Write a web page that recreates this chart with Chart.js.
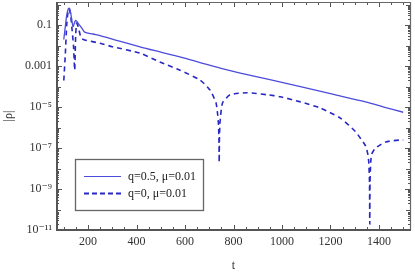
<!DOCTYPE html>
<html><head><meta charset="utf-8">
<script src="https://cdn.jsdelivr.net/npm/chart.js@4"></script>
<style>html,body{margin:0;padding:0;background:#fff;}#wrap{width:415px;height:277px;}</style>
</head><body><div id="wrap"><canvas id="c" width="415" height="277"></canvas></div>
<script>
// Series q=0.5, mu=0.01 (solid)
const tSolid = [100,106,112,118,122,127,132,138,143,149,156,165,175,186,220,250,300,414,500,579,662,745,828,950,1076,1200,1345,1420,1500];
const vSolid = [0.02,0.08,0.3,0.6,0.68,0.5,0.22,0.085,0.12,0.17,0.14,0.1,0.07,0.046,0.037,0.031,0.021,0.0087,0.0048,0.0028,0.0015,8e-4,4.6e-4,2.2e-4,1e-4,4.5e-5,1.8e-5,1e-5,5.6e-6];
// Series q=0, mu=0.01 (dashed)
const tDash = [100,106,112,118,122,128,134,140,145,149,153,160,168,175,186,250,300,414,496,579,662,703,728,735,738,740,741,742,744,747,752,757,786,857,939,993,1076,1159,1241,1303,1345,1354,1358,1361,1362,1363,1366,1370,1386,1428,1490,1500];
const vDash = [2e-4,3.2e-3,0.1,0.5,0.63,0.32,0.063,0.01,6.3e-4,0.032,0.126,0.08,0.032,0.022,0.019,0.013,0.0089,0.0043,0.0016,6.3e-4,2.1e-4,6.8e-5,1.6e-5,4e-6,1.5e-6,3e-7,2e-8,3e-7,1.5e-6,4e-6,1.2e-5,1.8e-5,4e-5,5e-5,4e-5,3.2e-5,1.8e-5,8.9e-6,2.9e-6,6.3e-7,1.26e-7,5e-8,2e-8,2e-9,2e-11,2e-9,2e-8,5e-8,1e-7,2e-7,2.5e-7,2.5e-7];
const xTicks = [200,400,600,800,1000,1200,1400];
const yTicks = [0.1,1e-3,1e-5,1e-7,1e-9,1e-11];
const yTickLabels = ['0.1','0.001','10\u207B\u2075','10\u207B\u2077','10\u207B\u2079','10\u207B\u00B9\u00B9'];
const legendLabels = ['q=0.5, \u03BC=0.01','q=0, \u03BC=0.01'];

const SERIF = '"Liberation Serif", "DejaVu Serif", serif';
const cSolid = '#4c4cdc';
const cDash = '#2828c4';

const framePlugin = {
  id: 'frame',
  afterDatasetsDraw(chart) {
    const ctx = chart.ctx, a = chart.chartArea;
    const xs = chart.scales.x, ys = chart.scales.y;
    ctx.save();
    ctx.strokeStyle = '#555';
    ctx.lineWidth = 1;
    ctx.beginPath();
    for (let v = 100; v <= 1500; v += 50) {
      const px = Math.round(xs.getPixelForValue(v)) + 0.5;
      const len = (v % 200 === 0) ? 5 : 3;
      ctx.moveTo(px, a.bottom); ctx.lineTo(px, a.bottom - len);
      ctx.moveTo(px, a.top); ctx.lineTo(px, a.top + len);
    }
    for (let e = -11; e <= 0; e++) {
      for (let m = 1; m <= 9; m++) {
        const v = m * Math.pow(10, e);
        if (v < 1e-11 || v > ys.max) continue;
        const py = Math.round(ys.getPixelForValue(v)) + 0.5;
        let len = 2;
        if (m === 1) len = ((e % 2) !== 0) ? 5 : 4;
        ctx.moveTo(a.left, py); ctx.lineTo(a.left + len, py);
        ctx.moveTo(a.right, py); ctx.lineTo(a.right - len, py);
      }
    }
    ctx.stroke();
    ctx.lineWidth = 1.2;
    ctx.strokeStyle = '#666';
    ctx.beginPath();
    ctx.moveTo(a.left, a.top + 0.5); ctx.lineTo(a.right + 0.5, a.top + 0.5); ctx.lineTo(a.right + 0.5, a.bottom);
    ctx.stroke();
    ctx.lineWidth = 2;
    ctx.strokeStyle = '#555';
    ctx.beginPath();
    ctx.moveTo(a.left, a.top); ctx.lineTo(a.left, a.bottom); ctx.lineTo(a.right + 1, a.bottom);
    ctx.stroke();
    // legend
    const bx = 75, by = 159, bw = 128, bh = 51;
    ctx.fillStyle = '#fff';
    ctx.fillRect(bx, by, bw, bh);
    ctx.lineWidth = 1.3;
    ctx.strokeStyle = '#666';
    ctx.strokeRect(bx + 0.5, by + 0.5, bw, bh);
    const rows = [{y: 176, c: cSolid, d: [], w: 1.2}, {y: 193, c: cDash, d: [5, 3], w: 1.8}];
    ctx.font = '12px ' + SERIF;
    ctx.textBaseline = 'middle';
    rows.forEach((r, i) => {
      ctx.strokeStyle = r.c; ctx.lineWidth = r.w; ctx.setLineDash(r.d);
      ctx.beginPath(); ctx.moveTo(84, r.y + 0.5); ctx.lineTo(121, r.y + 0.5); ctx.stroke();
      ctx.setLineDash([]);
      ctx.fillStyle = '#222';
      ctx.fillText(legendLabels[i], 128, r.y + 1);
    });
    ctx.restore();
  }
};

new Chart(document.getElementById('c'), {
  type: 'line',
  data: {
    datasets: [
      { data: tSolid.map((t, i) => ({x: t, y: vSolid[i]})), borderColor: cSolid, borderWidth: 1.3, pointRadius: 0, tension: 0.3, fill: false },
      { data: tDash.map((t, i) => ({x: t, y: vDash[i]})), borderColor: cDash, borderWidth: 1.6, borderDash: [5, 4], pointRadius: 0, tension: 0.2, fill: false }
    ]
  },
  options: {
    responsive: false, animation: false, devicePixelRatio: 1,
    layout: { padding: { left: 0, top: 2, right: 5, bottom: 0 } },
    plugins: { legend: { display: false }, tooltip: { enabled: false } },
    scales: {
      x: {
        type: 'linear', min: 72, max: 1528,
        afterFit(s) { s.height = 47; s.paddingLeft = 0; s.paddingRight = 0; },
        afterBuildTicks(s) { s.ticks = xTicks.map(v => ({value: v})); },
        grid: { display: false, drawTicks: false },
        border: { display: false },
        ticks: { padding: 5, color: '#333', font: { family: SERIF, size: 12 }, maxRotation: 0, callback: v => String(v) },
        title: { display: true, text: 't', color: '#333', font: { family: SERIF, size: 12 }, padding: { top: 4 } }
      },
      y: {
        type: 'logarithmic', min: 1e-11, max: 1.35,
        afterFit(s) { s.width = 57; s.paddingTop = 0; s.paddingBottom = 0; },
        afterBuildTicks(s) { s.ticks = yTicks.map(v => ({value: v})); },
        grid: { display: false, drawTicks: false },
        border: { display: false },
        ticks: { padding: 5, color: '#333', font: { family: SERIF, size: 12 }, callback: (v) => { const i = yTicks.findIndex(t => Math.abs(Math.log10(t) - Math.log10(v)) < 1e-6); return i >= 0 ? yTickLabels[i] : ''; } },
        title: { display: true, text: '|\u03C1|', color: '#333', font: { family: SERIF, size: 12 }, padding: { bottom: 0, top: 2 } }
      }
    }
  },
  plugins: [framePlugin]
});
</script></body></html>
